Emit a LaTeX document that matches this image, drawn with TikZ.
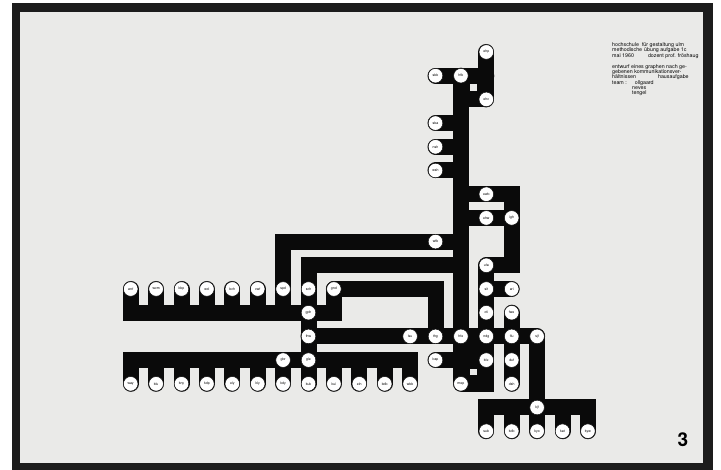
\documentclass[tikz,border=0pt]{standalone}
\usepackage{fontspec}
\setmainfont{TeX Gyre Heros}
\usetikzlibrary{backgrounds,calc}
\definecolor{paper}{RGB}{234,234,232}
\definecolor{frame}{RGB}{28,28,28}
\definecolor{ink}{RGB}{10,10,10}
\begin{document}
\begin{tikzpicture}[x=1pt,y=-1pt,
  dot/.style={circle,fill=white,draw=ink,line width=0.5pt,minimum size=14.6pt,inner sep=0pt,font=\fontsize{3.5}{4}\selectfont},
  bar/.style={draw=ink,line width=16pt,line cap=round},
  sbar/.style={draw=ink,line width=16pt,line cap=rect},
  hole/.style={rectangle,fill=paper,minimum size=6.5pt,inner sep=0pt},
  txt/.style={anchor=base west,inner sep=0pt,font=\fontsize{5.3}{6}\selectfont}]
\useasboundingbox (0,0) rectangle (721,470);
\foreach \i in {0,...,18}{\foreach \j in {0,...,16}{\coordinate (g\i-\j) at ({130.7+25.4*\i},{52+23.7*\j});}}
% circles
\foreach \n/\p in {ehp/14-0,sbb/12-1,hfb/13-1,ehc/14-2,sba/12-3,nsh/12-4,wsh/12-5,ewb/14-6,ehw/14-7,igh/15-7,wfb/12-8,ufa/14-9,
  wcf/0-10,wcm/1-10,kbp/2-10,wcl/3-10,bch/4-10,cwf/5-10,spd/6-10,sch/7-10,gnd/8-10,sit/14-10,ari/15-10,
  gph/7-11,cti/14-11,fwe/15-11,
  thw/7-12,lsu/11-12,thg/12-12,hfe/13-12,ndg/14-12,flu/15-12,sjf/16-12,
  gbr/6-13,gle/7-13,bap/12-13,kfe/14-13,duf/15-13,
  way/0-14,kfu/1-14,kny/2-14,kdp/3-14,ely/4-14,kly/5-14,kdy/6-14,kuk/7-14,kui/8-14,eln/9-14,bdb/10-14,wbb/11-14,mep/13-14,dsh/15-14,
  kjf/16-15,
  sub/14-16,kdb/15-16,kyo/16-16,kat/17-16,kyw/18-16}
  {\node[dot] (\n) at (g\p) {\n};}
% holes in the two blocks
\node[hole] (h1) at ($(g13-1)!0.5!(g14-2)$) {};
\node[hole] (h2) at ($(g13-13)!0.5!(g14-14)$) {};
% text
\node[txt] (t1) at (612,46.5) {hochschule\hspace{3pt}für gestaltung ulm};
\node[txt] (t2) at (612,52) {methodische\hspace{2pt}übung aufgabe 1c};
\node[txt] (t3) at (612,57.5) {mai 1960\hspace{14pt}dozent prof. fröshaug};
\node[txt] (t4) at (612,68.5) {entwurf eines graphen nach ge-};
\node[txt] (t5) at (612,73.5) {gebenen kommunikationsver-};
\node[txt] (t6) at (612,78.5) {hältnissen\hspace{22pt}hausaufgabe};
\node[txt] (t7) at (612,85) {team :\hspace{8pt}ollgaard};
\node[txt] (t8) at (632,90) {neves};
\node[txt] (t9) at (632,95) {tengel};
\node[font=\bfseries\fontsize{19}{19}\selectfont,inner sep=0pt] (num) at (683,440) {3};
\begin{scope}[on background layer]
\fill[white] (0,0) rectangle (721,470);
\fill[frame] (12,3) rectangle (713,470);
\fill[paper] (20,12) rectangle (703,463);
% top structure
\draw[bar] (ehp.center) -- (ehc.center);
\draw[bar] (sbb.center) -- (g14-1);
\fill[ink] (g13-1) rectangle ($(g14-2)+(0,8)$);
\draw[bar] (hfb.center) -- (mep.center);
\draw[bar] (sba.center) -- (g13-3);
\draw[bar] (nsh.center) -- (g13-4);
\draw[bar] (wsh.center) -- (g13-5);
% right side
\draw[sbar] (g13-6) -- (g15-6);
\draw[sbar] (g13-7) -- (igh.center);
\draw[sbar] (g15-6) -- (g15-9);
\draw[bar] (ufa.center) -- (g15-9);
\draw[bar] (ufa.center) -- (g14-14);
\draw[sbar] (kfe.center) -- (g14-14);
\draw[bar] (sit.center) -- (ari.center);
\draw[bar] (fwe.center) -- (dsh.center);
\draw[bar] (thw.center) -- (sjf.center);
\draw[bar] (sjf.center) -- (kjf.center);
\draw[bar] (bap.center) -- (g13-13);
\fill[ink] (g13-12) rectangle ($(g14-14)+(0,8)$);
% bottom right comb
\draw[sbar] (g14-15) -- (g18-15);
\foreach \n/\i in {sub/14,kdb/15,kyo/16,kat/17,kyw/18}{\draw[bar] (g\i-15) -- (\n.center);}
% left L shapes
\draw[sbar] (g6-8) -- (g13-8);
\draw[sbar] (g6-8) -- (g6-11);
\draw[sbar] (g7-9) -- (g13-9);
\draw[bar] (g7-9) -- (kuk.center);
\draw[bar] (gnd.center) -- (g12-10);
\draw[sbar] (g12-10) -- (thg.center);
\draw[bar] (gnd.center) -- (g8-11);
% upper-left comb
\draw[sbar] (g0-11) -- (g8-11);
\foreach \n/\i in {wcf/0,wcm/1,kbp/2,wcl/3,bch/4,cwf/5}{\draw[bar] (\n.center) -- (g\i-11);}
% lower-left comb
\draw[sbar] (g0-13) -- (g11-13);
\foreach \n/\i in {way/0,kfu/1,kny/2,kdp/3,ely/4,kly/5,kdy/6,kui/8,eln/9,bdb/10,wbb/11}{\draw[bar] (g\i-13) -- (\n.center);}
\end{scope}
\end{tikzpicture}
\end{document}
